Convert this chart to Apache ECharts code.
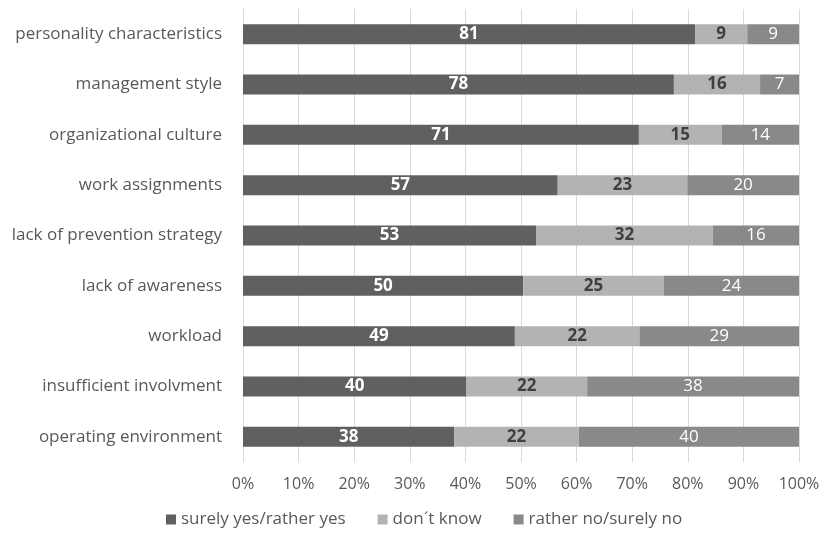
<!DOCTYPE html>
<html><head><meta charset="utf-8">
<script src="https://cdn.jsdelivr.net/npm/echarts@6/dist/echarts.min.js"></script>
<style>html,body{margin:0;padding:0;background:#fff}#c{width:823px;height:537px}</style>
</head><body><div id="c"></div>
<script>
var categories = ["personality characteristics","management style","organizational culture","work assignments","lack of prevention strategy","lack of awareness","workload","insufficient involvment","operating environment"];
var seriesNames = ["surely yes/rather yes","don\u00b4t know","rather no/surely no"];
var yesValues = [81.3, 77.5, 71.2, 56.6, 52.7, 50.4, 48.9, 40.2, 38.0];
var dontKnowValues = [9.4, 15.5, 14.9, 23.3, 31.8, 25.3, 22.4, 21.7, 22.4];
var noValues = [9.3, 7.0, 13.9, 20.1, 15.5, 24.3, 28.7, 38.1, 39.6];
var tickLabels = ["0%","10%","20%","30%","40%","50%","60%","70%","80%","90%","100%"];

var FONT = 'Open Sans';
var chart = echarts.init(document.getElementById('c'), null, {renderer:'canvas'});
function mk(name, data, color, labelColor, bold){
  return {name:name, type:'bar', stack:'s', data:data, barWidth:20,
    itemStyle:{color:color},
    label:{show:true, position:'inside', color:labelColor, fontFamily:FONT, fontSize:17, fontWeight:bold?'bold':'normal',
      formatter:function(p){return Math.round(p.value);}},
    emphasis:{disabled:true}};
}
chart.setOption({
  animation:false,
  textStyle:{fontFamily:FONT},
  grid:{left:243, right:24, top:9, bottom:75, containLabel:false},
  legend:{bottom:4, left:161, itemWidth:10, itemHeight:10, itemGap:32, icon:'rect',
    textStyle:{color:'#595959', fontSize:17, fontFamily:FONT},
    data:seriesNames},
  xAxis:{type:'value', min:0, max:100, interval:10,
    axisLine:{show:false}, axisTick:{show:false},
    splitLine:{lineStyle:{color:'#d9d9d9'}},
    axisLabel:{color:'#595959', fontSize:16, fontFamily:FONT, margin:14,
      formatter:function(v){return tickLabels[Math.round(v/10)];}}},
  yAxis:{type:'category', data:categories, inverse:true,
    axisLine:{show:true, lineStyle:{color:'#d9d9d9'}}, axisTick:{show:false},
    axisLabel:{color:'#595959', fontSize:17, fontFamily:FONT, margin:21}},
  series:[
    mk(seriesNames[0], yesValues, '#606060', '#ffffff', true),
    mk(seriesNames[1], dontKnowValues, '#b3b3b3', '#404040', true),
    mk(seriesNames[2], noValues, '#898989', '#ffffff', false)
  ]
});
</script></body></html>
